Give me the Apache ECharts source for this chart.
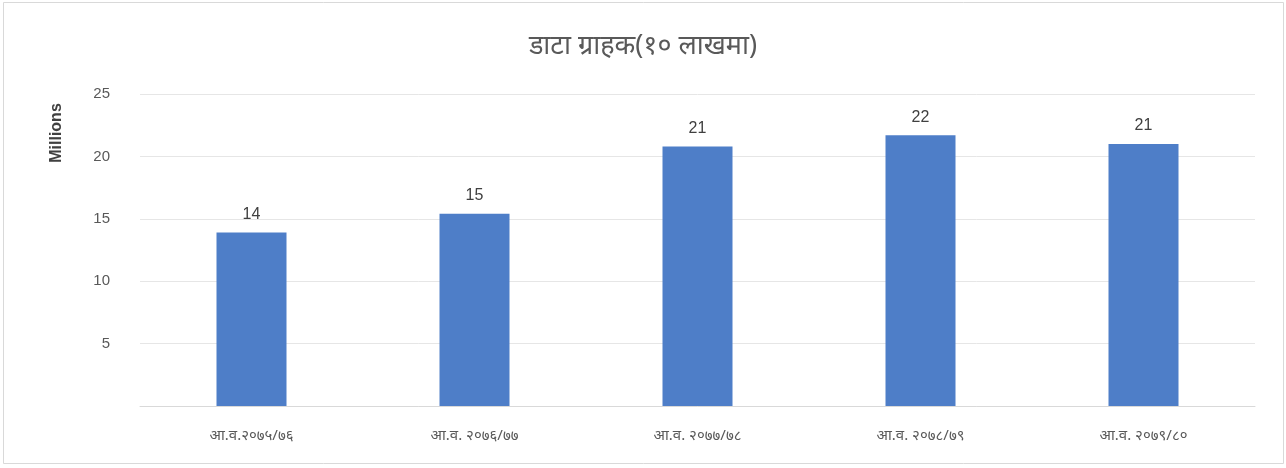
<!DOCTYPE html>
<html><head><meta charset="utf-8">
<script src="https://cdn.jsdelivr.net/npm/echarts@6/dist/echarts.min.js"></script>
<style>html,body{margin:0;padding:0;background:#fff}#c{width:1286px;height:468px}</style>
</head><body><div id="c"></div>
<script>
const titleText = 'डाटा ग्राहक(१० लाखमा)';
const categories = ['आ.व.२०७५/७६', 'आ.व. २०७६/७७', 'आ.व. २०७७/७८', 'आ.व. २०७८/७९', 'आ.व. २०७९/८०'];
const subscribersMillions = [13.9, 15.4, 20.8, 21.7, 21.0];
const yTicks = [0, 5, 10, 15, 20, 25];
const yAxisName = 'Millions';

const chart = echarts.init(document.getElementById('c'), null, {renderer: 'canvas'});
chart.setOption({
  animation: false,
  backgroundColor: '#fff',
  title: {
    text: titleText, left: 'center', top: 28,
    textStyle: {color: '#595959', fontSize: 27, fontWeight: 'normal', fontFamily: 'Noto Sans, DejaVu Sans, sans-serif'}
  },
  graphic: [
    {type: 'rect', shape: {x: 3.5, y: 2.5, width: 1280, height: 461}, style: {fill: 'none', stroke: '#d9d9d9', lineWidth: 1}, silent: true, z: -1},
    {type: 'text', x: 57, y: 133, rotation: Math.PI / 2, style: {text: yAxisName, fill: '#404040', fontSize: 16, fontWeight: 'bold', fontFamily: 'Liberation Sans Narrow, Liberation Sans, sans-serif', align: 'center', verticalAlign: 'middle'}}
  ],
  grid: {left: 140, right: 31, top: 94, bottom: 62, containLabel: false},
  xAxis: {
    type: 'category', data: categories,
    axisLine: {lineStyle: {color: '#d9d9d9', width: 1}},
    axisTick: {show: false},
    axisLabel: {color: '#595959', fontSize: 15, margin: 22, fontFamily: 'Noto Sans, DejaVu Sans, sans-serif'}
  },
  yAxis: {
    type: 'value', min: yTicks[0], max: yTicks[yTicks.length - 1], interval: 5,
    axisLine: {show: false}, axisTick: {show: false},
    splitLine: {lineStyle: {color: '#e6e6e6', width: 1}},
    axisLabel: {color: '#595959', fontSize: 15, margin: 30, fontFamily: 'Liberation Sans, sans-serif',
      formatter: v => (v === 0 ? '' : String(v))}
  },
  series: [{
    type: 'bar', data: subscribersMillions, barWidth: 70,
    itemStyle: {color: '#4e7ec8'},
    label: {show: true, position: 'top', distance: 10, color: '#404040', fontSize: 16, fontFamily: 'Liberation Sans, sans-serif',
      formatter: p => Math.round(p.value)}
  }]
});
</script></body></html>
